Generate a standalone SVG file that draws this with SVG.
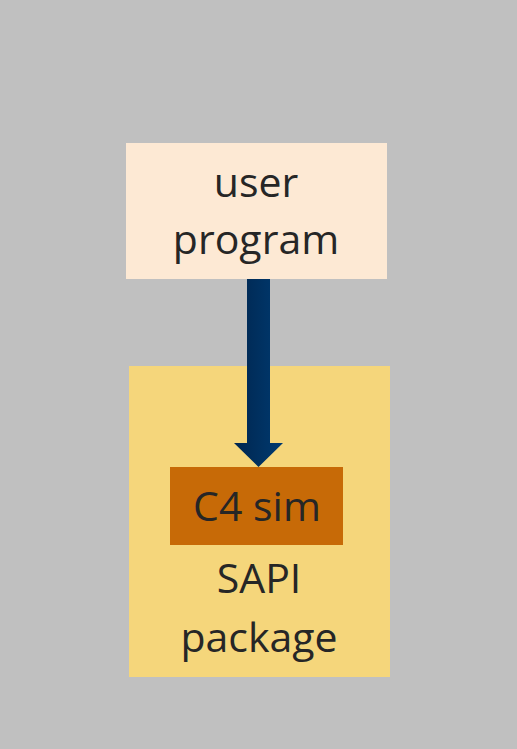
<svg xmlns="http://www.w3.org/2000/svg" width="517" height="749" viewBox="0 0 517 749">
<style>
.t{font-family:"Open Sans","Noto Sans","DejaVu Sans",sans-serif;font-size:41px;fill:#262626;text-anchor:middle}
</style>
<defs>
<linearGradient id="ag" x1="0" y1="0" x2="1" y2="0">
<stop offset="0" stop-color="#00264f"/>
<stop offset="1" stop-color="#003a70"/>
</linearGradient>
</defs>
<rect x="0" y="0" width="517" height="749" fill="#c0c0c0"/>
<g id="sapi">
<rect x="129" y="366" width="261" height="311" fill="#f5d67b"/>
<text class="t" x="259" y="593">SAPI</text>
<text class="t" x="259" y="652">package</text>
</g>
<g id="c4sim">
<rect x="170" y="467" width="173" height="78" fill="#c76a07"/>
<text class="t" x="257" y="521">C4 sim</text>
</g>
<g id="user">
<rect x="126" y="143" width="261" height="136" fill="#fde9d4"/>
<text class="t" x="256" y="197">user</text>
<text class="t" x="256" y="254">program</text>
</g>
<g id="connectors">
<path d="M247 279 H270 V443 H283 L258.5 467 L234 443 H247 Z" fill="url(#ag)"/>
</g>
</svg>
